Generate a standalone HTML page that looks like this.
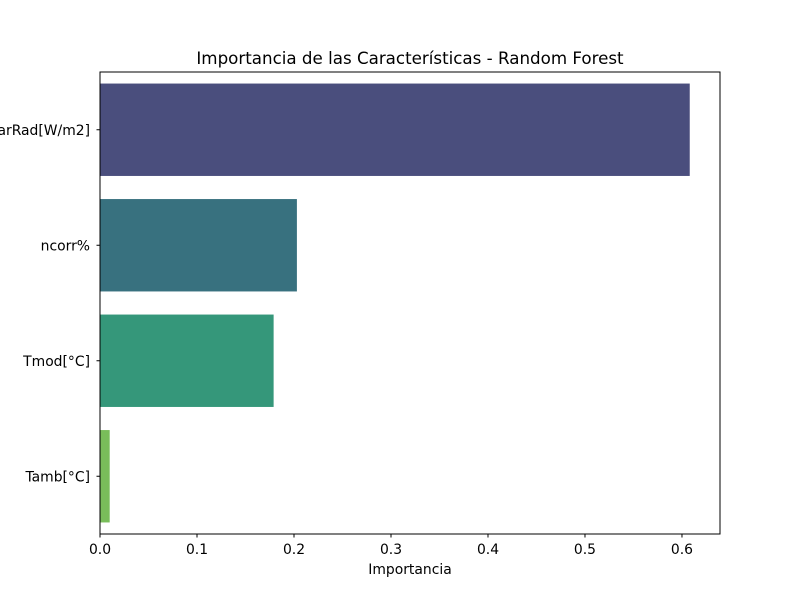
<!DOCTYPE html>
<html><head><meta charset="utf-8"><style>body{margin:0;background:#fff}svg{display:block;font-family:"DejaVu Sans","Liberation Sans",sans-serif}</style></head>
<body>
<svg id="chart" width="800" height="600">
<rect width="800" height="600" fill="#fff"/>
<text x="410" y="64" font-size="16.7" text-anchor="middle">Importancia de las Características - Random Forest</text>
<g id="bars"></g>
<g id="xticks"></g>
<g id="yticks"></g>
<rect x="100" y="72" width="620" height="462" fill="none" stroke="#000" stroke-width="1"/>
<text x="410" y="574" font-size="13.9" text-anchor="middle">Importancia</text>
</svg>
<script>
const categories = ["SolarRad[W/m2]", "ncorr%", "Tmod[°C]", "Tamb[°C]"];
const values = [0.608, 0.203, 0.179, 0.010];
const colors = ["#4a4e7d", "#38717f", "#35977a", "#79bd5a"];
const xTicks = [0, 0.1, 0.2, 0.3, 0.4, 0.5, 0.6];
const xTickLabels = ["0.0", "0.1", "0.2", "0.3", "0.4", "0.5", "0.6"];
const NS = "http://www.w3.org/2000/svg";
const L = 100, R = 720, T = 72, B = 534, XMAX = 0.6392;
const x = v => L + v / XMAX * (R - L);
const band = (B - T) / categories.length;
const yc = i => T + band * (i + 0.5);
const bars = document.getElementById('bars'), xt = document.getElementById('xticks'), yt = document.getElementById('yticks');
function mk(tag, attrs, parent) { const e = document.createElementNS(NS, tag); for (const k in attrs) e.setAttribute(k, attrs[k]); parent.appendChild(e); return e; }
categories.forEach((c, i) => {
  const h = band * 0.8;
  const r = mk('rect', {x: x(0), y: yc(i) - h / 2, width: x(values[i]) - x(0), height: h, fill: colors[i]}, bars);
  
  
  mk('line', {x1: L - 3.5, x2: L, y1: yc(i), y2: yc(i), stroke: '#000'}, yt);
  const t = mk('text', {x: L - 10, y: yc(i) + 5, 'font-size': 13.9, 'text-anchor': 'end'}, yt);
  t.textContent = c;
  
  
});
xTicks.forEach((v, i) => {
  mk('line', {x1: x(v), x2: x(v), y1: B, y2: B + 3.5, stroke: '#000'}, xt);
  const t = mk('text', {x: x(v), y: B + 20, 'font-size': 13.9, 'text-anchor': 'middle'}, xt);
  t.textContent = xTickLabels[i];
  
  
});
</script>
</body></html>
